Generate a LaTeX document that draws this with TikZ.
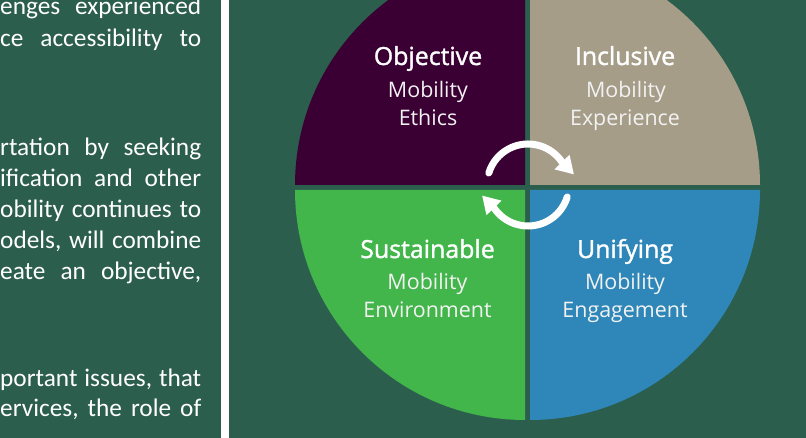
\documentclass[tikz,border=0pt]{standalone}
\usepackage{fontspec}
\setmainfont{Carlito}
\newfontfamily\labelfont{Open Sans}
\newfontfamily\titlefont{Open Sans}[FakeBold=1.4]
\usetikzlibrary{calc}

\definecolor{pagebg}{RGB}{44,94,78}
\definecolor{ethicsc}{RGB}{58,0,51}
\definecolor{inclc}{RGB}{166,157,137}
\definecolor{sustc}{RGB}{66,181,75}
\definecolor{unifc}{RGB}{46,135,184}

\tikzset{
  bodyline/.style={anchor=base west, inner sep=0pt, text=white,
    font=\fontsize{25.4}{30}\selectfont},
  quadtitle/.style={anchor=base, inner sep=0pt, text=white,
    font=\titlefont\fontsize{25}{30}\selectfont},
  quadsub/.style={anchor=base, inner sep=0pt, text=white!90!gray,
    font=\labelfont\fontsize{21.5}{26}\selectfont},
  cycleline/.style={draw=white, line width=7bp, line cap=round},
  cyclehead/.style={fill=white}
}

\begin{document}
\begin{tikzpicture}[x=1bp,y=1bp]
  \useasboundingbox (0,0) rectangle (806,438);
  \clip (0,0) rectangle (806,438);
  \fill[pagebg] (0,0) rectangle (806,438);
  % white divider between the text column and the figure
  \fill[white] (221,0) rectangle (229,438);

  % justified text column, cut at the page edge
  \newcommand\jline[2]{\node[bodyline] at (0,#1) {\hbox to 201bp{#2}};}
  \jline{423}{enges\hfill experienced}
  \jline{391}{ce\hfill accessibility\hfill to}
  \jline{282}{rtation\hfill by\hfill seeking}
  \jline{251}{ification\hfill and\hfill other}
  \jline{220}{obility\hfill continues\hfill to}
  \jline{189}{odels,\hfill will\hfill combine}
  \jline{158}{eate\hfill an\hfill objective,}
  \jline{51}{portant\hfill issues,\hfill that}
  \jline{21}{ervices,\hfill the\hfill role\hfill of}

  % four quarter discs
  \fill[ethicsc] (525,253) -- ++(-230,0) arc[start angle=180, end angle=90, radius=230] -- cycle;
  \fill[inclc]   (530,253) -- ++(0,230) arc[start angle=90, end angle=0, radius=230] -- cycle;
  \fill[sustc]   (525,248) -- ++(0,-230) arc[start angle=270, end angle=180, radius=230] -- cycle;
  \fill[unifc]   (530,248) -- ++(230,0) arc[start angle=0, end angle=-90, radius=230] -- cycle;

  % quadrant labels
  \node[quadtitle] (objt) at (428,373) {Objective};
  \node[quadsub]   (objm) at (428,340) {Mobility};
  \node[quadsub]   (objs) at (428,312) {Ethics};
  \node[quadtitle] (inct) at (625,373) {Inclusive};
  \node[quadsub]   (incm) at (626,340) {Mobility};
  \node[quadsub]   (incs) at (625,312) {Experience};
  \node[quadtitle] (sust) at (427.5,180) {Sustainable};
  \node[quadsub]   (susm) at (427.5,148) {Mobility};
  \node[quadsub]   (suss) at (427.5,120) {Environment};
  \node[quadtitle] (unit) at (625,180) {Unifying};
  \node[quadsub]   (unim) at (625,148) {Mobility};
  \node[quadsub]   (unis) at (625,120) {Engagement};

  % circular arrows in the middle
  \coordinate (ctr) at (528,253);
  \coordinate (topend) at ($(ctr)+(34:41)$);
  \coordinate (botend) at ($(ctr)+(214:41)$);
  \draw[cycleline] (ctr) ++(163:41) arc[start angle=163, end angle=34, radius=41];
  \draw[cycleline] (ctr) ++(-17:41) arc[start angle=-17, end angle=-146, radius=41];
  \fill[cyclehead] ([shift={(-46:17)}]topend) -- ([shift={(44:10.5)}]topend)
    -- ([shift={(224:10.5)}]topend) -- cycle;
  \fill[cyclehead] ([shift={(134:17)}]botend) -- ([shift={(224:10.5)}]botend)
    -- ([shift={(44:10.5)}]botend) -- cycle;
\end{tikzpicture}
\end{document}
